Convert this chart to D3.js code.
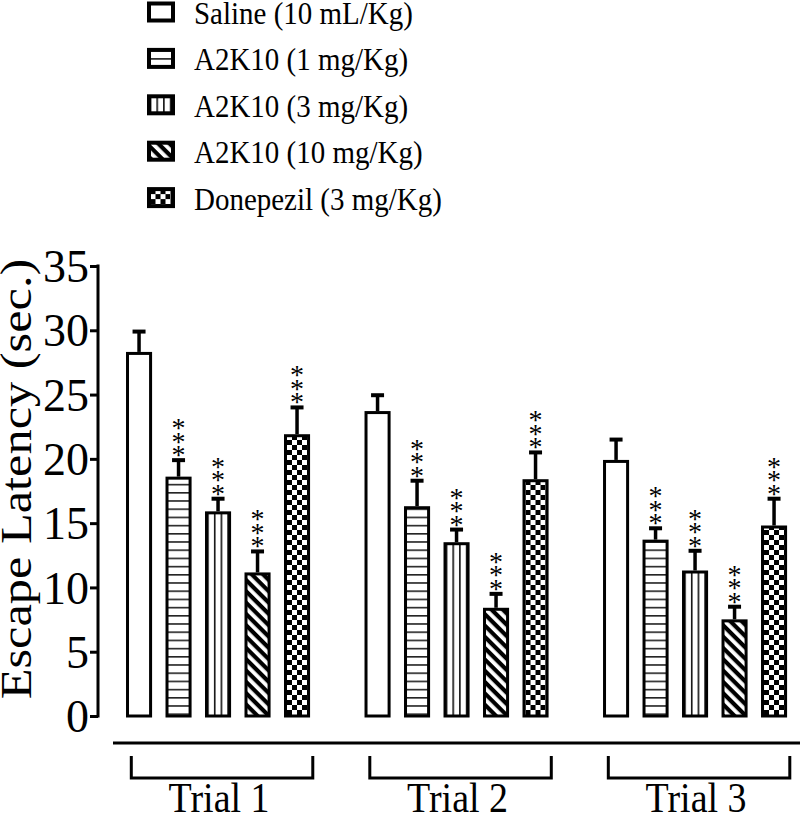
<!DOCTYPE html>
<html>
<head>
<meta charset="utf-8">
<script src="https://cdn.jsdelivr.net/npm/d3@7"></script>
<style>
  html, body { margin: 0; padding: 0; background: #fff; }
  svg { display: block; }
  text { font-family: "Liberation Serif", "DejaVu Serif", serif; fill: #000; }
</style>
</head>
<body>
<svg id="chart" width="800" height="820"></svg>
<script>
// ---- data ----
const trials = ["Trial 1", "Trial 2", "Trial 3"];
const groups = ["Saline (10 mL/Kg)", "A2K10 (1 mg/Kg)", "A2K10 (3 mg/Kg)", "A2K10 (10 mg/Kg)", "Donepezil (3 mg/Kg)"];
const patterns = ["none", "hlines", "vlines", "diag", "checker"];
const meanTrial1 = [28.2, 18.5, 15.8, 11.05, 21.8];
const semTrial1  = [1.7, 1.4, 1.1, 1.75, 2.2];
const meanTrial2 = [23.6, 16.2, 13.4, 8.3, 18.3];
const semTrial2  = [1.35, 2.1, 1.1, 1.2, 2.2];
const meanTrial3 = [19.8, 13.6, 11.2, 7.4, 14.7];
const semTrial3  = [1.7, 1.0, 1.65, 1.1, 2.2];
const sigTrial1 = ["", "***", "***", "***", "***"];
const sigTrial2 = ["", "***", "***", "***", "***"];
const sigTrial3 = ["", "***", "***", "***", "***"];
const yTicks = [0, 5, 10, 15, 20, 25, 30, 35];
const yLabel = "Escape Latency (sec.)";

const means = [meanTrial1, meanTrial2, meanTrial3];
const sems = [semTrial1, semTrial2, semTrial3];
const sigs = [sigTrial1, sigTrial2, sigTrial3];
const rows = [];
trials.forEach((t, ti) => groups.forEach((g, gi) => rows.push({
  trial: t, group: g, pat: patterns[gi], mean: means[ti][gi], sem: sems[ti][gi], sig: sigs[ti][gi]
})));

// ---- layout ----
const svg = d3.select("#chart");
const y = d3.scaleLinear().domain([0, 35]).range([716, 266]);
const x0 = d3.scaleBand().domain(trials).range([119.3, 793.8]).paddingInner(0.172).paddingOuter(0);
const x1 = d3.scaleBand().domain(groups).range([0, x0.bandwidth()]).paddingInner(0.34).paddingOuter(0.17);
const SW = 3;
const bw = x1.bandwidth() - SW; // rect width (stroke centred)
const STRETCH = 1.12;           // text in the reference is slightly tall

// ---- patterns ----
const defs = svg.append("defs");
const ph = defs.append("pattern").attr("id", "hlines").attr("patternUnits", "userSpaceOnUse")
  .attr("width", 10).attr("height", 8.2);
ph.append("rect").attr("width", 10).attr("height", 8.2).attr("fill", "#fff");
ph.append("rect").attr("y", 0).attr("width", 10).attr("height", 1.6).attr("fill", "#222");
const innerW = bw - SW;
const pv = defs.append("pattern").attr("id", "vlines").attr("patternUnits", "userSpaceOnUse")
  .attr("x", SW / 2 - 0.8).attr("width", innerW / 3).attr("height", 10);
pv.append("rect").attr("width", innerW / 3).attr("height", 10).attr("fill", "#fff");
pv.append("rect").attr("x", 0).attr("width", 1.6).attr("height", 10).attr("fill", "#111");
const pd = defs.append("pattern").attr("id", "diag").attr("patternUnits", "userSpaceOnUse")
  .attr("width", 10).attr("height", 8).attr("patternTransform", "rotate(45)");
pd.append("rect").attr("width", 10).attr("height", 8).attr("fill", "#fff");
pd.append("rect").attr("width", 10).attr("height", 4.2).attr("fill", "#000");
const pc = defs.append("pattern").attr("id", "checker").attr("patternUnits", "userSpaceOnUse")
  .attr("x", 1.5).attr("width", 10).attr("height", 10);
pc.append("rect").attr("width", 10).attr("height", 10).attr("fill", "#fff");
pc.append("rect").attr("width", 5).attr("height", 5).attr("fill", "#000");
pc.append("rect").attr("x", 5).attr("y", 5).attr("width", 5).attr("height", 5).attr("fill", "#000");

const fillOf = p => p === "none" ? "#fff" : `url(#${p})`;

// ---- y axis ----
const yAxis = d3.axisLeft(y).tickValues(yTicks).tickSize(8).tickSizeOuter(0).tickPadding(1);
const ga = svg.append("g").attr("transform", "translate(98,0)").call(yAxis);
ga.select(".domain").attr("stroke", "#000").attr("stroke-width", 3).attr("d", `M0,${y(0) + 1.5}V${y(35) - 1.5}`);
ga.selectAll(".tick line").attr("stroke", "#000").attr("stroke-width", 3);
ga.selectAll(".tick text").attr("font-family", "Liberation Serif").attr("font-size", 46).attr("fill", "#000")
  .attr("dy", "0.34em");

svg.append("text").attr("transform", `translate(31,479) scale(1,${STRETCH}) rotate(-90)`)
  .attr("text-anchor", "middle").attr("font-size", 45).text(yLabel);

// ---- bars ----
const bars = svg.append("g").selectAll("g").data(rows).join("g")
  .attr("transform", d => `translate(${x0(d.trial) + x1(d.group) + SW / 2},0)`);

bars.append("rect")
  .attr("x", 0).attr("y", d => y(d.mean)).attr("width", bw).attr("height", d => y(0) - y(d.mean))
  .attr("fill", d => fillOf(d.pat)).attr("stroke", "#000").attr("stroke-width", SW);

bars.append("line")
  .attr("x1", bw / 2).attr("x2", bw / 2)
  .attr("y1", d => y(d.mean) - SW / 2).attr("y2", d => y(d.mean + d.sem))
  .attr("stroke", "#000").attr("stroke-width", 3.5);
bars.append("line")
  .attr("x1", bw / 2 - 6.5).attr("x2", bw / 2 + 6.5)
  .attr("y1", d => y(d.mean + d.sem)).attr("y2", d => y(d.mean + d.sem))
  .attr("stroke", "#000").attr("stroke-width", 4);

// asterisks stacked vertically above each error bar
const AFS = 28;
bars.each(function (d) {
  const g = d3.select(this);
  d.sig.split("").forEach((c, i) => {
    g.append("text").attr("x", bw / 2)
      .attr("y", y(d.mean + d.sem) - 10 - i * 13.5 + AFS * 0.5)
      .attr("text-anchor", "middle").attr("font-size", AFS).attr("fill", "#333")
      .text(c);
  });
});

// ---- bottom line and brackets ----
svg.append("line").attr("x1", 113).attr("x2", 800).attr("y1", y(0) + 27).attr("y2", y(0) + 27)
  .attr("stroke", "#000").attr("stroke-width", 3);
const br = svg.append("g").selectAll("g").data(trials).join("g");
br.append("path")
  .attr("d", t => `M${x0(t) + 12},${y(0) + 40}V${y(0) + 62}H${x0(t) + x0.bandwidth() - 4}V${y(0) + 40}`)
  .attr("fill", "none").attr("stroke", "#000").attr("stroke-width", 3);
br.append("text")
  .attr("transform", t => `translate(${x0(t) + x0.bandwidth() / 2 + 1},812) scale(1,${STRETCH})`)
  .attr("text-anchor", "middle").attr("font-size", 38).text(t => t);

// ---- legend ----
const lg = svg.append("g").selectAll("g").data(groups).join("g")
  .attr("transform", (g, i) => `translate(149,${12 + i * 46.4})`);
lg.append("g").attr("transform", "translate(0,-8.5)").append("rect")
  .attr("width", 24).attr("height", 17)
  .attr("fill", (g, i) => fillOf(patterns[i])).attr("stroke", "#000").attr("stroke-width", 4);
lg.append("text").attr("transform", `translate(45,1) scale(1,${STRETCH})`)
  .attr("dy", "0.34em").attr("font-size", 29).text(g => g);
</script>
</body>
</html>
